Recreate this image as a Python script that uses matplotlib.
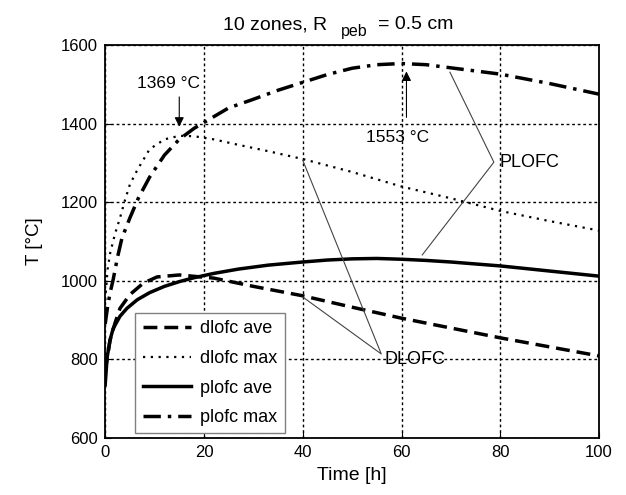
import matplotlib
matplotlib.use("Agg")
import matplotlib.pyplot as plt

plt.rcParams['font.family'] = ['Liberation Sans', 'DejaVu Sans']
plt.rcParams['mathtext.default'] = 'regular'

# ---- data ----
t_dave = [0, 0.5, 1, 2, 3, 5, 7.7, 10.5, 15, 22, 30, 40, 45.5, 50, 60, 70, 80, 90, 100]
T_dave = [770, 810, 850, 893, 930, 965, 994, 1010, 1015, 1007, 986, 962, 946, 933, 905, 880, 855, 832, 809]

t_dmax = [0, 0.5, 1, 2, 3, 4, 5, 6.5, 9, 12, 15, 18, 22, 27, 33, 40, 50, 60, 70, 80, 90, 100]
T_dmax = [950, 1030, 1070, 1120, 1160, 1205, 1245, 1282, 1335, 1360, 1369, 1368, 1360, 1346, 1330, 1310, 1277, 1240, 1210, 1178, 1152, 1128]

t_pave = [0, 0.4, 1, 1.6, 3, 4.4, 6.5, 9, 12, 15, 18, 22, 27, 33, 40, 45, 50, 55, 60, 65, 70, 80, 90, 100]
T_pave = [735, 806, 850, 878, 910, 930, 952, 970, 986, 998, 1008, 1019, 1030, 1040, 1048, 1053, 1056, 1057, 1055, 1052, 1048, 1038, 1025, 1012]

t_pmax = [0, 0.5, 1, 1.6, 2.5, 3.4, 5, 6.7, 9, 12, 15, 18, 20, 25, 30, 35, 40, 45, 50, 55, 60, 65, 70, 80, 90, 100]
T_pmax = [890, 935, 970, 1002, 1060, 1109, 1160, 1210, 1264, 1320, 1360, 1388, 1403, 1440, 1462, 1485, 1505, 1525, 1541, 1550, 1553, 1550, 1542, 1526, 1502, 1475]

labels = ['dlofc ave', 'dlofc max', 'plofc ave', 'plofc max']
xticks = [0, 20, 40, 60, 80, 100]
yticks = [600, 800, 1000, 1200, 1400, 1600]

fig = plt.figure(figsize=(6.26, 4.95), dpi=100)
ax = fig.add_axes([0.168, 0.115, 0.789, 0.794])

ax.plot(t_dave, T_dave, color='black', lw=2.5, linestyle=(0, (4, 2)), label=labels[0])
ax.plot(t_dmax, T_dmax, color='black', lw=1.6, linestyle=(0, (1, 2.5)), label=labels[1])
ax.plot(t_pave, T_pave, color='black', lw=2.5, linestyle='-', label=labels[2])
ax.plot(t_pmax, T_pmax, color='black', lw=2.5, linestyle=(0, (5, 2, 1, 2)), label=labels[3])

ax.set_xlim(0, 100)
ax.set_ylim(600, 1600)
ax.set_xticks(xticks)
ax.set_yticks(yticks)
ax.grid(True, color='black', linestyle=(0, (2, 2)), lw=1)
ax.tick_params(direction='in', labelsize=12, length=4, pad=5)
for s in ax.spines.values():
    s.set_linewidth(1.3)

ax.set_xlabel('Time [h]', fontsize=14, labelpad=5)
ax.set_ylabel('T [°C]', fontsize=13.5, labelpad=13)

# title built from pieces (large subscript)
fig.text(223 / 626, 1 - 29 / 495, '10 zones, R', fontsize=14, ha='left', va='baseline')
fig.text(341 / 626, 1 - 36 / 495, 'peb', fontsize=11.5, ha='left', va='baseline')
fig.text(378 / 626, 1 - 29 / 495, '= 0.5 cm', fontsize=14, ha='left', va='baseline')

leg = ax.legend(loc='upper left', bbox_to_anchor=(0.061, 0.318), borderaxespad=0,
                fontsize=13, handlelength=2.7, handletextpad=0.5, labelspacing=0.7,
                fancybox=False, framealpha=1, edgecolor='gray')
leg.get_frame().set_linewidth(1.0)

# annotations
ax.annotate('', xy=(15, 1385), xytext=(15, 1475),
            arrowprops=dict(arrowstyle='-|>', color='black', lw=0.8, mutation_scale=14))
ax.text(12.8, 1503, '1369 °C', ha='center', va='center', fontsize=12.5)

ax.annotate('', xy=(61, 1540), xytext=(61, 1409),
            arrowprops=dict(arrowstyle='-|>', color='black', lw=0.8, mutation_scale=14))
ax.text(59.1, 1366, '1553 °C', ha='center', va='center', fontsize=12.5)

ax.plot([69.8, 78.7, 64.2], [1531, 1302, 1066], color='#444444', lw=0.8)
ax.text(79.8, 1302, 'PLOFC', ha='left', va='center', fontsize=13)

ax.plot([40, 55.9, 40], [1307, 814, 959], color='#444444', lw=0.8)
ax.text(56.5, 800, 'DLOFC', ha='left', va='center', fontsize=13)

fig.savefig('out.png', dpi=100)
